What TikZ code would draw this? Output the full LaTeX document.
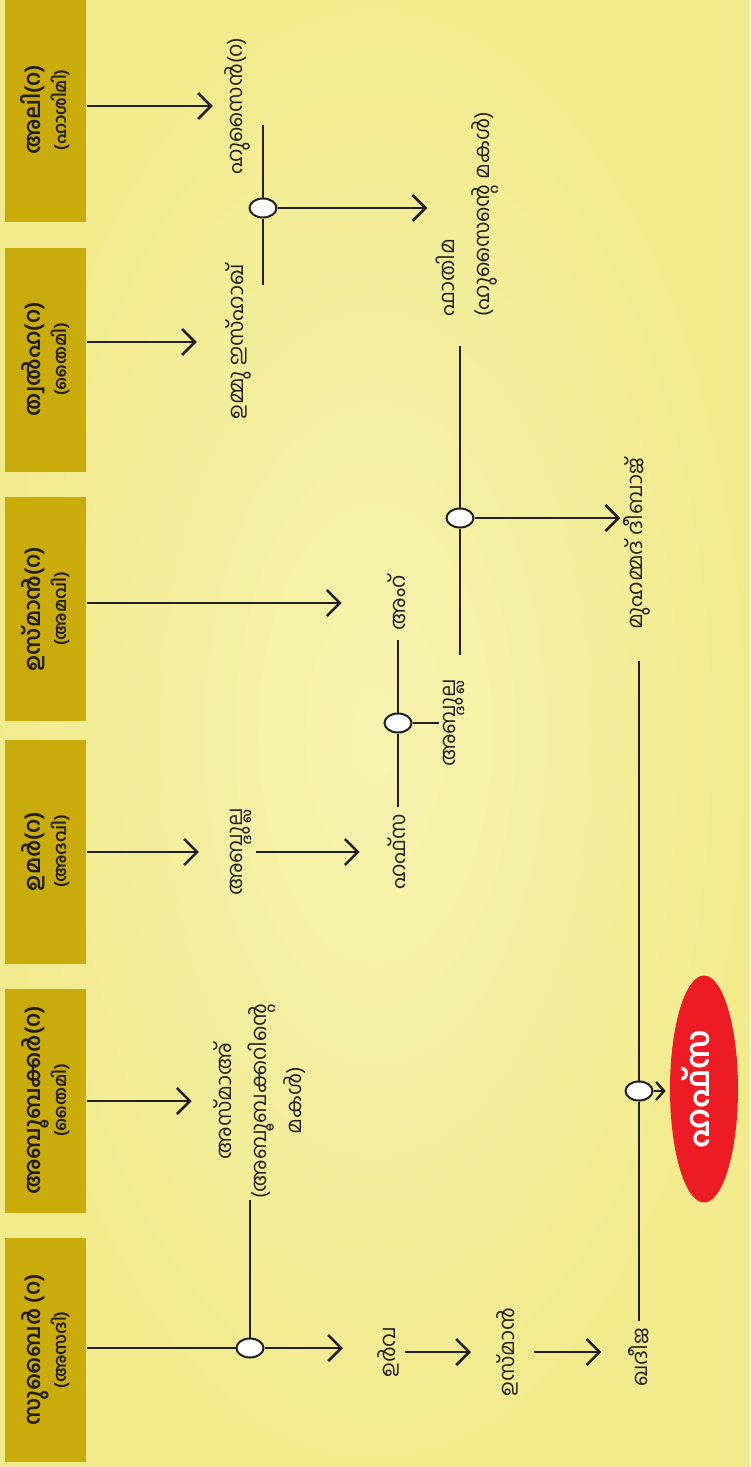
\documentclass[tikz,border=0pt]{standalone}
\usepackage{fontspec}
\usepackage{tikz}
\usetikzlibrary{shapes.geometric,arrows.meta}
\newfontfamily\mlfont[Script=Malayalam]{Hind Kochi}
\definecolor{paper}{RGB}{246,243,176}
\definecolor{paperedge}{RGB}{242,235,142}
\definecolor{eldergold}{RGB}{201,172,12}
\definecolor{heirred}{RGB}{237,28,36}
\definecolor{ink}{RGB}{35,31,32}

\begin{document}
\begin{tikzpicture}[x=1pt, y=-1pt, line width=2.6pt, color=ink,
    every node/.append style={font=\mlfont\fontsize{21}{35}\selectfont, inner sep=0pt}]
  \tikzstyle{elder} = [fill=eldergold, rotate=90, align=center, minimum width=224pt, minimum height=81pt, font=\mlfont\bfseries\fontsize{22}{26}\selectfont]
  \tikzstyle{kin} = [rotate=90, align=center]
  \tikzstyle{knot} = [ellipse, draw=ink, fill=white, line width=2pt, minimum width=27pt, minimum height=19pt]
  \tikzstyle{desc} = [-{Straight Barb[length=13pt,width=26pt]}]
  \useasboundingbox (0,0) rectangle (750,1467);
  \shade[inner color=paper, outer color=paperedge] (0,0) rectangle (750,1467);
  \node (zub) [elder] at (45.5,1350) {സുബൈർ (റ)\\{\fontsize{17}{26}\selectfont(അസദി)}};
  \node (abu) [elder] at (45.5,1100.5) {അബൂബക്കർ(റ)\\{\fontsize{17}{26}\selectfont(തൈമി)}};
  \node (umar) [elder] at (45.5,851.5) {ഉമർ(റ)\\{\fontsize{17}{26}\selectfont(അദവി)}};
  \node (uthb) [elder] at (45.5,609) {ഉസ്മാൻ(റ)\\{\fontsize{17}{26}\selectfont(അമവി)}};
  \node (talb) [elder] at (45.5,359.5) {ത്വൽഹ(റ)\\{\fontsize{17}{26}\selectfont(തൈമി)}};
  \node (alib) [elder] at (45.5,110) {അലി(റ)\\{\fontsize{17}{26}\selectfont(ഹാശിമി)}};
  \node (asma) [kin] at (260,1101) {അസ്മാഅ്\\(അബൂബക്കറിന്റെ\\മകൾ)};
  \node (abd1) [kin] at (241,852) {അബ്ദുല്ല};
  \node (hafsa) [kin] at (397,852) {ഹഫ്സ};
  \node (amr) [kin] at (397,603) {അംറ്};
  \node (abd2) [kin] at (454,723) {അബ്ദുല്ല};
  \node (ummu) [kin] at (238,342) {ഉമ്മു ഇസ്ഹാഖ്};
  \node (husain) [kin] at (237,106) {ഹുസൈൻ(റ)};
  \node (fatima) [kin, align=left, anchor=west] at (467,318) {ഫാതിമ\\(ഹുസൈന്റെ മകൾ)};
  \node (dibaj) [kin] at (637,544) {മുഹമ്മദ് ദീബാജ്};
  \node (urwa) [kin] at (388,1352) {ഉർവ};
  \node (uthman) [kin] at (507,1352) {ഉസ്മാൻ};
  \node (khadija) [kin] at (639,1357) {ഖദീജ};
  \node (heir) [ellipse, fill=heirred, rotate=90, minimum width=227pt, minimum height=68pt, text=white, font=\mlfont\bfseries\fontsize{32}{34}\selectfont] at (704,1089) {\raisebox{8pt}[\height][\depth]{ഹഫ്സ}};
  \node (zubknot) [knot] at (250,1348) {};
  \node (husknot) [knot] at (263,208) {};
  \node (amrknot) [knot] at (398,723) {};
  \node (abdknot) [knot] at (460,518) {};
  \node (dibknot) [knot] at (639,1091) {};
  \draw (zub.south |- zubknot) -- (zubknot);
  \draw (zubknot) -- (zubknot |- asma.west);
  \draw[desc, shorten >=33pt] (zubknot) -- (zubknot -| urwa.north);
  \draw[desc, shorten >=21pt] (abu.south |- asma) -- (asma.north);
  \draw[desc, shorten >=30pt] (umar.south |- abd1) -- (abd1.north);
  \draw[desc, shorten >=45pt] (uthb.south |- amr) -- (amr.north);
  \draw[desc, shorten >=27pt] (talb.south |- ummu) -- (ummu.north);
  \draw[desc, shorten >=10pt] (alib.south |- husain) -- (husain.north);
  \draw[desc, shorten <=3pt, shorten >=27pt] (abd1.south) -- (abd1.south -| hafsa.north);
  \draw[shorten <=6pt] (hafsa.east -| amrknot) -- (amrknot);
  \draw[shorten >=8pt] (amrknot) -- (amrknot |- amr.west);
  \draw[shorten >=3pt] (amrknot) -- (amrknot -| abd2.north);
  \draw[shorten <=23pt] (abd2.east -| abdknot) -- (abdknot);
  \draw[shorten >=28pt] (abdknot) -- (abdknot |- fatima.west);
  \draw[desc, shorten >=2pt] (abdknot) -- (abdknot -| dibaj.north);
  \draw[shorten <=57pt] (husknot |- ummu) -- (husknot);
  \draw[shorten >=19pt] (husknot) -- (husknot |- husain);
  \draw[desc, shorten >=7pt] (husknot) -- (husknot -| fatima.north);
  \draw[desc, shorten <=5pt, shorten >=24pt] (urwa.south) -- (urwa.south -| uthman.north);
  \draw[desc, shorten <=15pt, shorten >=26pt] (uthman.south) -- (uthman.south -| khadija.north);
  \draw[shorten <=5pt] (khadija.east -| dibknot) -- (dibknot);
  \draw[shorten >=30pt] (dibknot) -- (dibknot |- dibaj.west);
  \draw[-{Straight Barb[length=8pt,width=18pt]}, line width=2.4pt, shorten >=3pt] (dibknot) -- (dibknot -| heir.north);
\end{tikzpicture}
\end{document}
